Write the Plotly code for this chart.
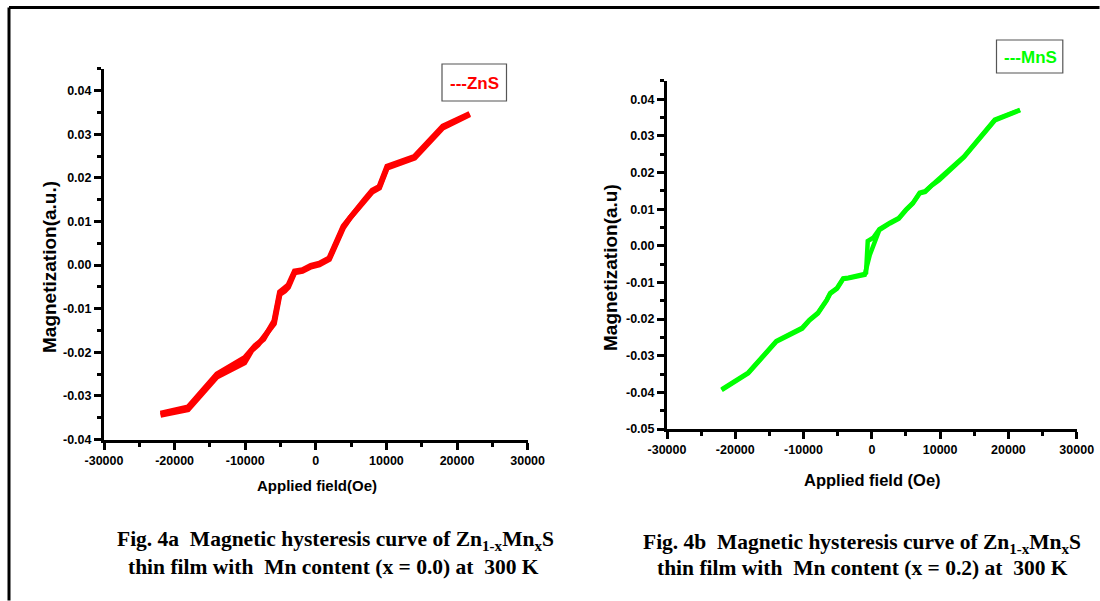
import plotly.graph_objects as go

# ---------------- data ----------------
field_zns_down = [21800, 18000, 14000, 10100, 9000, 8000, 6900, 4900, 3900, 1900, 500, -700, -1900, -3000,
                  -3900, -4500, -5100, -5900, -7400, -8600, -10100, -14000, -18100, -22000]
m_zns_down = [0.0347, 0.0318, 0.0249, 0.0226, 0.0180, 0.0171, 0.0150, 0.0112, 0.0089, 0.0016, 0.0004, -0.0001,
              -0.0011, -0.0014, -0.0046, -0.0054, -0.0062, -0.0128, -0.0170, -0.0185, -0.0213, -0.0250, -0.0326, -0.0340]
field_zns_up = [-22000, -18100, -14000, -10100, -9100, -8200, -5900, -5100, -4400, -3900, -3000, -1900, -700,
                500, 1900, 3900, 4900, 6900, 8000, 9000, 10100, 14000, 18000, 21800]
m_zns_up = [-0.0344, -0.0331, -0.0256, -0.0224, -0.0196, -0.0183, -0.0134, -0.0067, -0.0059, -0.0051, -0.0017,
            -0.0014, -0.0004, 0.0001, 0.0013, 0.0086, 0.0109, 0.0147, 0.0168, 0.0177, 0.0223, 0.0246, 0.0315, 0.0345]

field_mns_down = [21700, 18000, 13500, 9850, 8800, 7800, 7000, 6000, 5000, 3950, 2650, 1100, 200, -600, -850,
                  -1050, -3450, -4200, -5100, -6100, -6600, -7900, -9150, -10200, -14000, -18100, -22000]
m_mns_down = [0.0371, 0.0344, 0.0244, 0.0181, 0.0167, 0.0149, 0.0145, 0.0117, 0.0099, 0.0076, 0.0063, 0.0045,
              0.0022, 0.0013, -0.0074, -0.0077, -0.0087, -0.0089, -0.0115, -0.0129, -0.0147, -0.0183, -0.0202,
              -0.0224, -0.0260, -0.0346, -0.0392]
field_mns_up = [-22000, -18100, -14000, -10200, -9150, -7900, -6600, -6100, -5100, -4200, -3450, -1050, -300,
                300, 1100, 2650, 3950, 5000, 6000, 7000, 7800, 8800, 9850, 13500, 18000, 21700]
m_mns_up = [-0.0394, -0.0348, -0.0262, -0.0226, -0.0204, -0.0185, -0.0149, -0.0131, -0.0117, -0.0091, -0.0089,
            -0.0079, -0.0025, 0.0008, 0.0043, 0.0061, 0.0074, 0.0097, 0.0115, 0.0143, 0.0147, 0.0165, 0.0179,
            0.0242, 0.0342, 0.0370]

x_ticks = [-30000, -20000, -10000, 0, 10000, 20000, 30000]
y_ticks_a = [-0.04, -0.03, -0.02, -0.01, 0.00, 0.01, 0.02, 0.03, 0.04]
y_ticks_b = [-0.05, -0.04, -0.03, -0.02, -0.01, 0.00, 0.01, 0.02, 0.03, 0.04]

legend_a = "---ZnS"
legend_b = "---MnS"
xtitle_a = "Applied field(Oe)"
xtitle_b = "Applied field (Oe)"
ytitle_a = "Magnetization(a.u.)"
ytitle_b = "Magnetization(a.u)"
cap_a = ["Fig. 4a  Magnetic hysteresis curve of Zn<sub>1-x</sub>Mn<sub>x</sub>S",
         "thin film with  Mn content (x = 0.0) at  300 K"]
cap_b = ["Fig. 4b  Magnetic hysteresis curve of Zn<sub>1-x</sub>Mn<sub>x</sub>S",
         "thin film with  Mn content (x = 0.2) at  300 K"]

RED = "#FF0000"
GREEN = "#00FF00"
W, H = 1100, 601

def px(x):
    return x / W

def py(y):
    return 1 - y / H

fig = go.Figure()
fig.add_trace(go.Scatter(x=field_zns_down, y=m_zns_down, mode="lines", line=dict(color=RED, width=5.5),
                         xaxis="x", yaxis="y", showlegend=False))
fig.add_trace(go.Scatter(x=field_zns_up, y=m_zns_up, mode="lines", line=dict(color=RED, width=5.5),
                         xaxis="x", yaxis="y", showlegend=False))
fig.add_trace(go.Scatter(x=field_mns_down, y=m_mns_down, mode="lines", line=dict(color=GREEN, width=4.5),
                         xaxis="x2", yaxis="y2", showlegend=False))
fig.add_trace(go.Scatter(x=field_mns_up, y=m_mns_up, mode="lines", line=dict(color=GREEN, width=4.5),
                         xaxis="x2", yaxis="y2", showlegend=False))

TICKFONT = dict(family="Liberation Sans, Arial", size=12.5, color="black", weight="bold")

def xaxis_style(domain, anchor):
    return dict(domain=domain, anchor=anchor, range=[-30000, 30000], tickvals=x_ticks,
                ticktext=[str(v) for v in x_ticks], showline=True, linewidth=3, linecolor="black",
                ticks="outside", ticklen=7, tickwidth=3, tickcolor="black", showgrid=False, zeroline=False,
                tickfont=TICKFONT, automargin=False,
                minor=dict(ticks="outside", ticklen=4, tickwidth=3, tickcolor="black", dtick=5000,
                           tick0=-30000, showgrid=False))

def yaxis_style(domain, anchor, rng, ticks):
    return dict(domain=domain, anchor=anchor, range=rng, tickvals=ticks,
                ticktext=["%.2f" % v for v in ticks], showline=True, linewidth=3, linecolor="black",
                ticks="outside", ticklen=7, tickwidth=3, tickcolor="black", showgrid=False, zeroline=False,
                tickfont=TICKFONT, automargin=False,
                minor=dict(ticks="outside", ticklen=4, tickwidth=3, tickcolor="black", dtick=0.005,
                           tick0=0, showgrid=False))

# plot geometry (pixels)
ax_l, ax_r, ax_top, ax_bot = 104, 527.6, 68.8, 439.5
bx_l, bx_r, bx_top, bx_bot = 667, 1076.7, 80.9, 429.0

fig.update_layout(
    template="none",
    width=W, height=H, margin=dict(l=0, r=0, t=0, b=0, autoexpand=False),
    paper_bgcolor="white", plot_bgcolor="rgba(0,0,0,0)",
    xaxis=xaxis_style([px(ax_l), px(ax_r)], "y"),
    yaxis=yaxis_style([py(ax_bot), py(ax_top)], "x", [-0.04, 0.045], y_ticks_a),
    xaxis2=xaxis_style([px(bx_l), px(bx_r)], "y2"),
    yaxis2=yaxis_style([py(bx_bot), py(bx_top)], "x2", [-0.05, 0.045], y_ticks_b),
)

shapes = [
    # outer frame
    dict(type="line", xref="paper", yref="paper", x0=px(9), x1=px(1099.5), y0=py(7.5), y1=py(7.5),
         line=dict(color="black", width=3)),
    dict(type="line", xref="paper", yref="paper", x0=px(9), x1=px(9), y0=py(7.5), y1=py(600.5),
         line=dict(color="black", width=3)),
    # legend boxes
    dict(type="rect", xref="paper", yref="paper", x0=px(442), x1=px(506.5), y0=py(101), y1=py(64),
         line=dict(color="#555555", width=1.2), fillcolor="white"),
    dict(type="rect", xref="paper", yref="paper", x0=px(996.5), x1=px(1062.8), y0=py(73), y1=py(40),
         line=dict(color="#555555", width=1.2), fillcolor="white"),
]
fig.update_layout(shapes=shapes)

TITLEFONT = dict(family="Liberation Sans, Arial", size=15, color="black", weight="bold")
LEGFONT = dict(family="Liberation Sans, Arial", size=17, weight="bold")
CAPFONT = dict(family="Liberation Serif, Times New Roman, serif", size=21.5, color="black", weight="bold")

ann = []
def add_text(text, x, y, font, angle=0):
    ann.append(dict(text=text, x=px(x), y=py(y), xref="paper", yref="paper", showarrow=False,
                    xanchor="center", yanchor="middle", font=font, textangle=angle))

add_text(legend_a, 474, 83, dict(LEGFONT, color=RED))
add_text(legend_b, 1030, 57, dict(LEGFONT, color=GREEN))
add_text(xtitle_a, 316.5, 486, TITLEFONT)
add_text(xtitle_b, 872, 480, dict(TITLEFONT, size=16.5))
add_text(ytitle_a, 49, 267, dict(TITLEFONT, size=19), -90)
add_text(ytitle_b, 610, 268, dict(TITLEFONT, size=19), -90)
add_text(cap_a[0], 335, 540, CAPFONT)
add_text(cap_a[1], 333, 567, CAPFONT)
add_text(cap_b[0], 862, 543, CAPFONT)
add_text(cap_b[1], 862, 568, CAPFONT)
fig.update_layout(annotations=ann)

fig.write_html("out.html", config={"displayModeBar": False},
               post_script="document.body.style.margin='0px';document.body.style.overflow='hidden';")
